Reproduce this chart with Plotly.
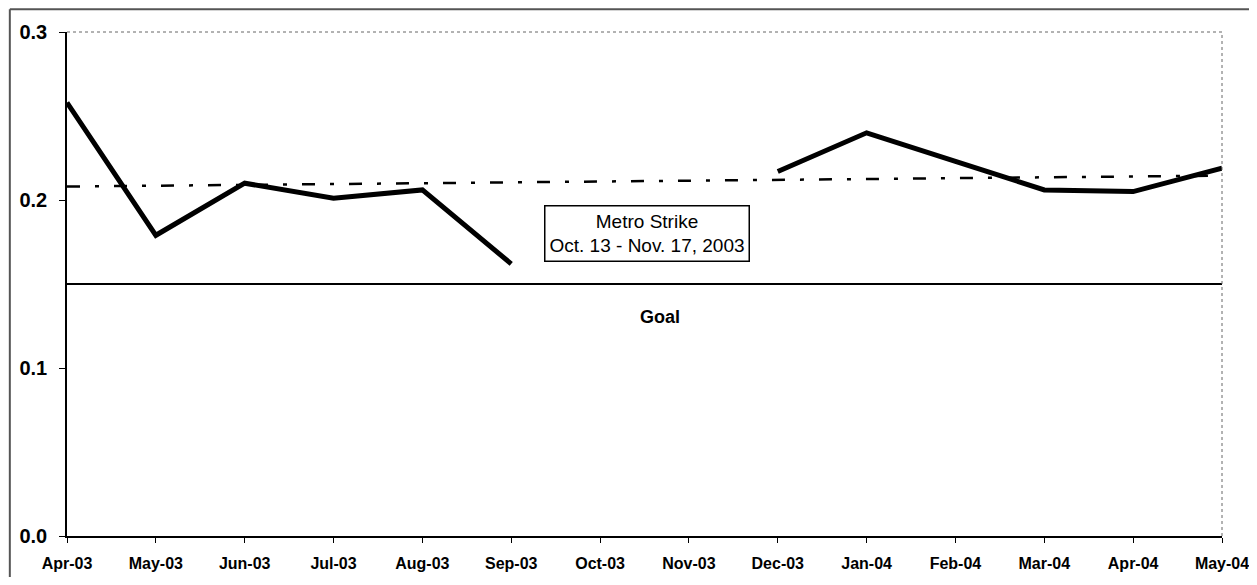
import plotly.graph_objects as go

months = ["Apr-03", "May-03", "Jun-03", "Jul-03", "Aug-03", "Sep-03", "Oct-03",
          "Nov-03", "Dec-03", "Jan-04", "Feb-04", "Mar-04", "Apr-04", "May-04"]
values = [0.258, 0.179, 0.210, 0.201, 0.206, 0.162, None,
          None, 0.217, 0.240, 0.223, 0.206, 0.205, 0.219]
trend_x = ["Apr-03", "May-04"]
trend_y = [0.208, 0.2145]
goal_x = ["Apr-03", "May-04"]
goal_y = [0.15, 0.15]
y_ticks = [0.0, 0.1, 0.2, 0.3]

FONT = "Arial, 'Liberation Sans', sans-serif"

fig = go.Figure()
fig.add_trace(go.Scatter(x=goal_x, y=goal_y, mode="lines",
                         line=dict(color="black", width=2), hoverinfo="skip"))
fig.add_trace(go.Scatter(x=trend_x, y=trend_y, mode="lines",
                         line=dict(color="black", width=2.5, dash="13px,15px,4px,15px")))
fig.add_trace(go.Scatter(x=months, y=values, mode="lines", connectgaps=False,
                         line=dict(color="black", width=5)))

fig.add_annotation(x=6.53, y=0.1798, xref="x", yref="y",
                   text="Metro Strike<br>Oct. 13 - Nov. 17, 2003", showarrow=False,
                   font=dict(family=FONT, size=19, color="black"),
                   bordercolor="black", borderwidth=1.5, borderpad=4, bgcolor="white")
fig.add_annotation(x=6.67, y=0.1305, xref="x", yref="y", text="<b>Goal</b>",
                   showarrow=False, font=dict(family=FONT, size=18, color="black"))

# plot-area border (top & right)
fig.add_shape(type="line", xref="paper", yref="paper", x0=0, x1=1, y0=1, y1=1,
              line=dict(color="#666", width=1, dash="dot"))
fig.add_shape(type="line", xref="paper", yref="paper", x0=1, x1=1, y0=0, y1=1,
              line=dict(color="#666", width=1, dash="dot"))
# chart-area border (top & left)
fig.add_shape(type="line", xref="paper", yref="paper", x0=-0.0495, x1=1.03, y0=1.045, y1=1.045,
              line=dict(color="#555", width=2))
fig.add_shape(type="line", xref="paper", yref="paper", x0=-0.0495, x1=-0.0495, y0=-0.09, y1=1.045,
              line=dict(color="#555", width=2))

fig.update_layout(
    width=1241, height=569, autosize=False,
    margin=dict(l=59, r=27, t=24, b=41),
    paper_bgcolor="white", plot_bgcolor="white",
    showlegend=False,
    font=dict(family=FONT, color="black"),
    xaxis=dict(type="category", categoryarray=months, categoryorder="array",
               range=[0, 13], showgrid=False, zeroline=False, automargin=False,
               showline=True, linecolor="black", linewidth=1.5,
               ticks="outside", ticklen=5, tickcolor="black",
               ticklabelstandoff=7,
               tickfont=dict(family=FONT, size=16, color="black", weight="bold")),
    yaxis=dict(range=[0, 0.3], tickvals=y_ticks, tickformat=".1f",
               showgrid=False, zeroline=False, automargin=False,
               showline=True, linecolor="black", linewidth=1.5,
               ticks="outside", ticklen=6, tickcolor="black",
               ticklabelstandoff=8,
               tickfont=dict(family=FONT, size=20, color="black", weight="bold")),
)

fig.write_html("out.html")
